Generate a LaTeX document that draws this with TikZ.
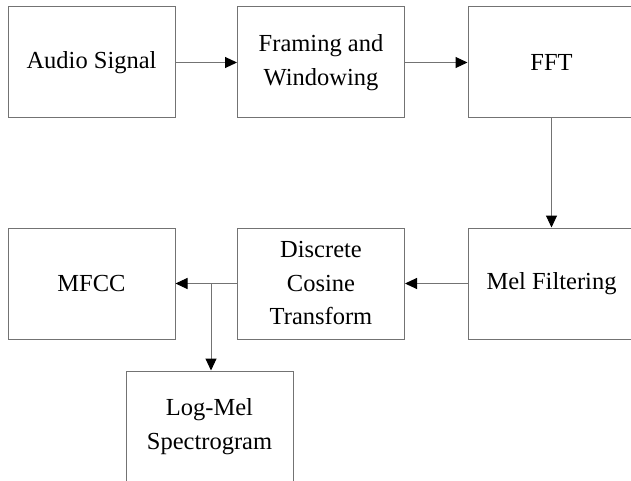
\documentclass[tikz,border=0pt]{standalone}
\usepackage{fontspec}
\setmainfont{Liberation Serif}
\usetikzlibrary{arrows.meta,positioning,calc}

\tikzset{
  blk/.style={draw=black!55,line width=1pt,minimum width=167pt,minimum height=111pt,
    inner sep=0pt,align=center,font=\fontsize{24.5}{33.5}\selectfont},
  flow/.style={draw=black!55,line width=1pt,-{Triangle[length=12pt,width=11pt,color=black]}}
}

\begin{document}
\begin{tikzpicture}[x=1pt,y=-1pt]
  \useasboundingbox (0,0) rectangle (631,481);
  \clip (0,0) rectangle (631,481);
  % upper row
  \node[blk] (audio)   at (91.5,62.5)  {Audio Signal};
  \node[blk] (framing) at (321,62.5)   {Framing and\\Windowing};
  \node[blk] (fft)     at (551.5,62.5) {FFT};
  % lower row
  \node[blk] (mel)     at (551.5,283.5) {Mel Filtering};
  \node[blk] (dct)     at (321,283.5)   {Discrete\\Cosine\\Transform};
  \node[blk] (mfcc)    at (91.5,283.5)  {MFCC};
  \node[blk] (logmel)  at (209.5,426.5) {Log-Mel\\Spectrogram};
  \coordinate (split) at (211,283.5);
  \draw[flow] (audio) -- (framing);
  \draw[flow] (framing) -- (fft);
  \draw[flow] (fft) -- (mel);
  \draw[flow] (mel) -- (dct);
  \draw[flow] (dct) -- (mfcc);
  \draw[flow] (split) -- (split |- logmel.north);
\end{tikzpicture}
\end{document}
